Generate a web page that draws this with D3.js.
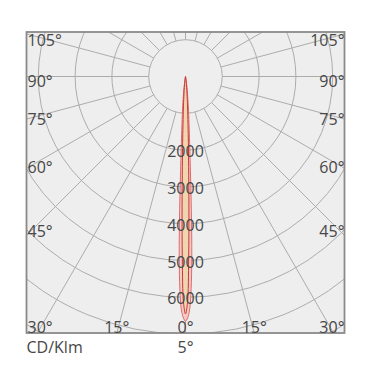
<!DOCTYPE html>
<html>
<head>
<meta charset="utf-8">
<script src="https://cdn.jsdelivr.net/npm/d3@7"></script>
<style>
  body { margin: 0; background: #fff; }
  text { font-family: "Open Sans", sans-serif; fill: #474747; }
</style>
</head>
<body>
<div class="polar"></div>
<script>
// ---- data ----
var angles = [0, 0.5, 1, 1.5, 2, 2.5, 3, 4, 5, 6, 8, 10];          // degrees from nadir
var planeC0 = [6650, 6560, 6350, 5800, 4900, 3650, 2550, 1450, 950, 620, 250, 0];
var planeC90 = [6450, 6150, 4950, 3550, 2450, 1800, 1300, 800, 480, 300, 100, 0];
var ringValues = [1000, 2000, 3000, 4000, 5000, 6000, 7000, 8000, 9000];
var ringLabels = [2000, 3000, 4000, 5000, 6000];
var leftLabels = ["105°", "90°", "75°", "60°", "45°"];
var leftLabelY = [46, 87, 125, 173, 237];
var bottomLabels = ["30°", "15°", "0°"];
var unitLabel = "CD/Klm";
var beamLabel = "5°";

var svgWidth = 376;
var svgHeight = 379;

var frame = { left: 26.5, top: 32, right: 344.5, bottom: 333 };
var cx = 185.5;
var cy = 76.5;

var svg = d3.select(".polar")
  .append("svg")
  .attr("width", svgWidth)
  .attr("height", svgHeight);

var rScale = d3.scaleLinear()
  .domain([0, 1000])
  .range([0, 36.8]);

svg.append("defs").append("clipPath")
  .attr("id", "frameClip")
  .append("rect")
  .attr("x", frame.left)
  .attr("y", frame.top)
  .attr("width", frame.right - frame.left)
  .attr("height", frame.bottom - frame.top);

// background
svg.append("rect")
  .attr("x", frame.left)
  .attr("y", frame.top)
  .attr("width", frame.right - frame.left)
  .attr("height", frame.bottom - frame.top)
  .attr("fill", "#eeeeee");

var grid = svg.append("g")
  .attr("clip-path", "url(#frameClip)")
  .append("g")
  .attr("transform", `translate(${cx}, ${cy})`);

// rings
grid.selectAll("circle")
  .data(ringValues)
  .enter()
  .append("circle")
  .attr("r", d => rScale(d))
  .attr("fill", "none")
  .attr("stroke", "#acacac")
  .attr("stroke-width", 1);

// spokes every 15 degrees, starting at the 1000 ring
var spokes = d3.range(0, 360, 15);
grid.selectAll("line")
  .data(spokes)
  .enter()
  .append("line")
  .attr("x1", d => rScale(1000) * Math.sin(d * Math.PI / 180))
  .attr("y1", d => rScale(1000) * Math.cos(d * Math.PI / 180))
  .attr("x2", d => rScale(12000) * Math.sin(d * Math.PI / 180))
  .attr("y2", d => rScale(12000) * Math.cos(d * Math.PI / 180))
  .attr("stroke", "#acacac")
  .attr("stroke-width", 1);

// candela curves, mirrored around nadir
function curvePoints(values) {
  var pts = [];
  for (var i = angles.length - 1; i > 0; i--) pts.push([-angles[i], values[i]]);
  for (var j = 0; j < angles.length; j++) pts.push([angles[j], values[j]]);
  return pts;
}

var radial = d3.lineRadial()
  .angle(d => Math.PI - d[0] * Math.PI / 180)
  .radius(d => rScale(d[1]))
  .curve(d3.curveCatmullRom);

grid.append("path")
  .attr("d", radial(curvePoints(planeC0)) + "Z")
  .attr("fill", "#f4cbc4")
  .attr("stroke", "#e06a6a")
  .attr("stroke-width", 1);

grid.append("path")
  .attr("d", radial(curvePoints(planeC90)) + "Z")
  .attr("fill", "#f0d6ae")
  .attr("stroke", "#c8353a")
  .attr("stroke-width", 1);

// frame border
svg.append("rect")
  .attr("x", frame.left)
  .attr("y", frame.top)
  .attr("width", frame.right - frame.left)
  .attr("height", frame.bottom - frame.top)
  .attr("fill", "none")
  .attr("stroke", "#8a8a8a")
  .attr("stroke-width", 1.8);

// ring value labels
svg.selectAll(".ringLabel")
  .data(ringLabels)
  .enter()
  .append("text")
  .attr("class", "ringLabel")
  .attr("x", cx)
  .attr("y", d => cy + rScale(d) + 7)
  .attr("text-anchor", "middle")
  .attr("font-size", "16px")
  .text(d => d);

// side angle labels
svg.selectAll(".leftLabel")
  .data(leftLabels)
  .enter()
  .append("text")
  .attr("class", "leftLabel")
  .attr("x", frame.left + 1)
  .attr("y", (d, i) => leftLabelY[i])
  .attr("font-size", "16px")
  .text(d => d);

svg.selectAll(".rightLabel")
  .data(leftLabels)
  .enter()
  .append("text")
  .attr("class", "rightLabel")
  .attr("x", frame.right)
  .attr("y", (d, i) => leftLabelY[i])
  .attr("text-anchor", "end")
  .attr("font-size", "16px")
  .text(d => d);

// bottom angle labels
var bottomY = frame.bottom;
var xAt15 = (frame.bottom - cy) * Math.tan(15 * Math.PI / 180);

svg.append("text")
  .attr("x", frame.left + 1).attr("y", bottomY)
  .attr("font-size", "16px").text(bottomLabels[0]);
svg.append("text")
  .attr("x", frame.right).attr("y", bottomY)
  .attr("text-anchor", "end")
  .attr("font-size", "16px").text(bottomLabels[0]);
svg.append("text")
  .attr("x", cx - xAt15).attr("y", bottomY)
  .attr("text-anchor", "middle")
  .attr("font-size", "16px").text(bottomLabels[1]);
svg.append("text")
  .attr("x", cx + xAt15).attr("y", bottomY)
  .attr("text-anchor", "middle")
  .attr("font-size", "16px").text(bottomLabels[1]);
svg.append("text")
  .attr("x", cx).attr("y", bottomY)
  .attr("text-anchor", "middle")
  .attr("font-size", "16px").text(bottomLabels[2]);

// footer
svg.append("text")
  .attr("x", frame.left)
  .attr("y", 353)
  .attr("font-size", "16px")
  .text(unitLabel);

svg.append("text")
  .attr("x", cx)
  .attr("y", 353)
  .attr("text-anchor", "middle")
  .attr("font-size", "16px")
  .text(beamLabel);
</script>
</body>
</html>
